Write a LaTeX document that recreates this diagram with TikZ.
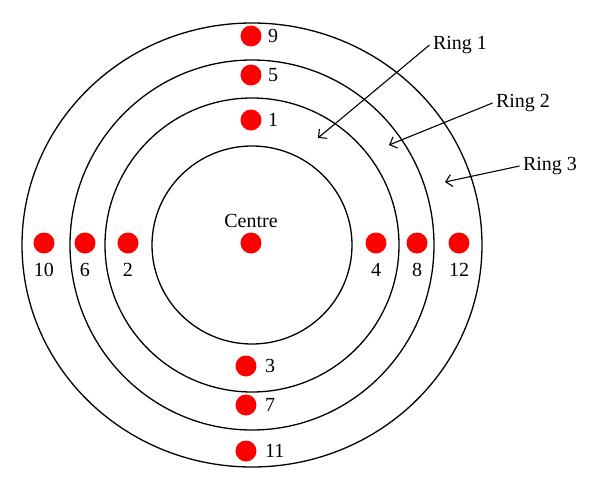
\documentclass[tikz,border=0pt]{standalone}
\usepackage{fontspec}
\setmainfont{Liberation Serif}
\usetikzlibrary{arrows.meta,positioning}

\begin{document}
\begin{tikzpicture}[x=1pt, y=1pt, every node/.style={font=\fontsize{20}{24}\selectfont}, >={Straight Barb[length=6pt,width=12pt]}, reddot/.style={circle, fill=red, minimum size=21pt, inner sep=0pt}, ring/.style={line width=1.3pt}]
	\useasboundingbox (-251,-244) rectangle (349,244);
	\coordinate (o) at (1,-1);
	% the four circles
	\draw[ring] (o) ellipse [x radius=100pt, y radius=99pt];
	\draw[ring] (o) ellipse [x radius=147pt, y radius=147pt];
	\draw[ring] (o) ellipse [x radius=182pt, y radius=185pt];
	\draw[ring] (o) ellipse [x radius=230pt, y radius=222pt];
	% centre
	\node[reddot] (c) at (0,1) {};
	\node[above=1pt of c] (ctext) {Centre};
	% top and bottom
	\node[reddot] (d1) at (0,124) {};
	\node[right=3pt of d1] (t1) {1};
	\node[reddot] (d5) at (0,169) {};
	\node[right=3pt of d5] (t5) {5};
	\node[reddot] (d9) at (0,208) {};
	\node[right=3pt of d9] (t9) {9};
	\node[reddot] (d3) at (-5,-122) {};
	\node[right=5pt of d3] (t3) {3};
	\node[reddot] (d7) at (-5,-161) {};
	\node[right=5pt of d7] (t7) {7};
	\node[reddot] (d11) at (-5,-207) {};
	\node[right=5pt of d11] (t11) {11};
	% left and right
	\node[reddot] (d2) at (-123,1) {};
	\node[below=6pt of d2] (t2) {2};
	\node[reddot] (d6) at (-166,1) {};
	\node[below=6pt of d6] (t6) {6};
	\node[reddot] (d10) at (-207,1) {};
	\node[below=6pt of d10] (t10) {10};
	\node[reddot] (d4) at (125,1) {};
	\node[below=6pt of d4] (t4) {4};
	\node[reddot] (d8) at (166,1) {};
	\node[below=6pt of d8] (t8) {8};
	\node[reddot] (d12) at (208,1) {};
	\node[below=6pt of d12] (t12) {12};
	% ring labels
	\node (r1) at (209,199) {Ring 1};
	\node (r2) at (272,141) {Ring 2};
	\node (r3) at (299,78) {Ring 3};
	\coordinate (a1) at (67,106);
	\coordinate (a2) at (138,99);
	\coordinate (a3) at (194,62);
	\draw[->, line width=1.1pt] (r1.west) -- (a1);
	\draw[->, line width=1.1pt] (r2.west) -- (a2);
	\draw[->, line width=1.1pt] (r3.west) -- (a3);
\end{tikzpicture}
\end{document}
